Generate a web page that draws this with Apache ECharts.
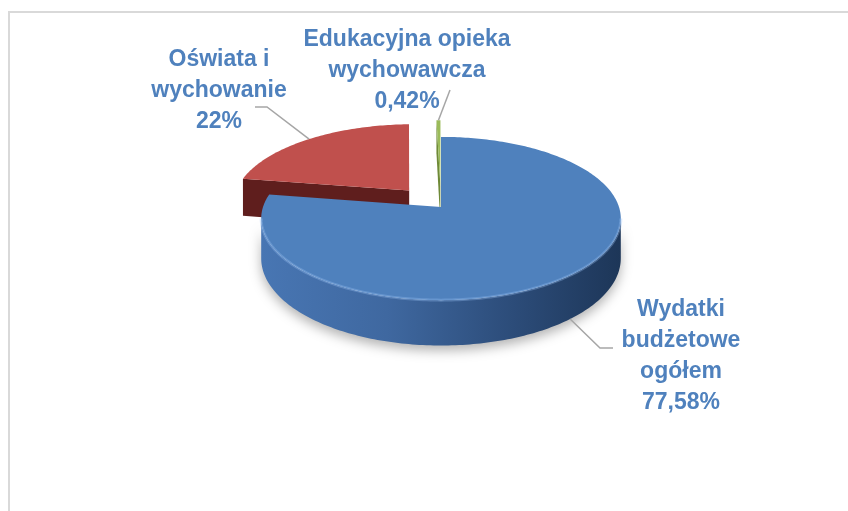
<!DOCTYPE html>
<html>
<head>
<meta charset="utf-8">
<script src="https://cdn.jsdelivr.net/npm/echarts@6/dist/echarts.min.js"></script>
<style>
  html, body { margin: 0; padding: 0; background: #fff; }
  #chart { width: 848px; height: 511px; }
</style>
</head>
<body>
<div id="chart"></div>
<script>
// dane z wykresu
const categories = ['Wydatki\nbudżetowe\nogółem', 'Oświata i\nwychowanie', 'Edukacyjna opieka\nwychowawcza'];
const shares = [77.58, 22, 0.42];

// wygląd plastrów
const topColors = ['#4F81BD', '#C0504D', '#9BBB59'];
const sideColors = ['#2e5080', '#5f1e1d', '#6f8a38'];
const explode = [0, 0.28, 0.28];

// etykiety (środek tekstu, kolano linii, koniec linii)
const labelCentres = [[681, 356], [219, 91], [407, 71]];
const leaderKnees = [[600, 348], [267, 107], [450, 90]];
const leaderEnds = [[613, 348], [255, 107], [450, 90]];

const pie = { cx: 441, cy: 207, rx: 178, ry: 80, depth: 39, persp: 0.141 };

const total = shares.reduce((a, b) => a + b, 0);
const startAngles = [];
let acc = 0;
shares.forEach(v => { startAngles.push(acc / total * Math.PI * 2); acc += v; });

function project(u, v, down) {
  const s = 1 / (1 + pie.persp * v);
  return [pie.cx + pie.rx * u * s, pie.cy - pie.ry * v * s + down * s];
}

function rim(a0, a1, ou, ov, down) {
  const n = Math.max(2, Math.ceil((a1 - a0) / (Math.PI / 180)) + 1);
  const pts = [];
  for (let k = 0; k < n; k++) {
    const t = a0 + (a1 - a0) * k / (n - 1);
    pts.push(project(ou + Math.sin(t), ov + Math.cos(t), down));
  }
  return pts;
}

function fmt(v) {
  return String(v).replace('.', ',') + '%';
}

// kolejność rysowania: od najdalszego plastra
const mids = shares.map((v, i) => startAngles[i] + v / total * Math.PI);
const order = mids.map((m, i) => i).sort((a, b) => Math.cos(mids[b]) - Math.cos(mids[a]));

function renderSlice(params, api) {
  const i = params.dataIndex;
  const val = api.value(0);
  const a0 = startAngles[i];
  const a1 = a0 + val / total * Math.PI * 2;
  const m = (a0 + a1) / 2;
  const ou = explode[i] * Math.sin(m);
  const ov = explode[i] * Math.cos(m);
  const h = pie.depth;
  const rank = order.indexOf(i) * 10;
  const children = [];

  // ściany przekroju
  [[a0, -1], [a1, 1]].forEach(([a, sign]) => {
    const nu = sign * Math.cos(a), nv = sign * -Math.sin(a);
    const pu = ou + 0.5 * Math.sin(a), pv = ov + 0.5 * Math.cos(a);
    const facing = -nu * pu - nv * (1 / pie.persp + pv);
    if (facing <= 0) return;
    children.push({
      type: 'polygon',
      z2: rank + 1,
      shape: { points: [project(ou, ov, 0), project(ou + Math.sin(a), ov + Math.cos(a), 0),
                        project(ou + Math.sin(a), ov + Math.cos(a), h), project(ou, ov, h)] },
      style: { fill: sideColors[i] }
    });
  });

  // ściana zewnętrzna (tylko przód)
  const lim = Math.acos(-pie.persp);
  const w0 = Math.max(a0, lim), w1 = Math.min(a1, Math.PI * 2 - lim);
  if (w1 > w0) {
    const upper = rim(w0, w1, ou, ov, 0);
    const lower = rim(w0, w1, ou, ov, h).reverse();
    const grad = i === 0
      ? new echarts.graphic.LinearGradient(0, 0, 1, 0, [
          { offset: 0, color: '#4876b3' }, { offset: 0.35, color: '#3f68a0' },
          { offset: 0.7, color: '#2c4c79' }, { offset: 1, color: '#1d3658' }])
      : sideColors[i];
    children.push({
      type: 'polygon',
      z2: rank + 2,
      shape: { points: upper.concat(lower) },
      style: { fill: grad, shadowBlur: 12, shadowOffsetY: 5, shadowColor: 'rgba(0,0,0,0.3)' }
    });
    children.push({
      type: 'polyline',
      z2: rank + 4,
      shape: { points: upper },
      style: { stroke: 'rgba(150,190,240,0.35)', lineWidth: 3, fill: null }
    });
  }

  // wierzch
  children.push({
    type: 'polygon',
    z2: rank + 3,
    shape: { points: [project(ou, ov, 0)].concat(rim(a0, a1, ou, ov, 0)) },
    style: { fill: topColors[i] }
  });

  // linia odniesienia i etykieta
  const front = Math.cos(m) < 0;
  const anchor = project(ou + Math.sin(m), ov + Math.cos(m), front ? h : 0);
  children.push({
    type: 'polyline',
    z2: 200,
    shape: { points: [anchor, leaderKnees[i], leaderEnds[i]] },
    style: { stroke: '#A6A6A6', lineWidth: 1.5, fill: null }
  });
  children.push({
    type: 'text',
    z2: 201,
    x: labelCentres[i][0],
    y: labelCentres[i][1],
    style: {
      text: categories[i] + '\n' + fmt(val),
      fill: '#4F81BD',
      font: 'bold 23px "Liberation Sans", Arial, sans-serif',
      lineHeight: 31,
      align: 'center',
      verticalAlign: 'middle'
    }
  });

  return { type: 'group', children: children };
}

const chart = echarts.init(document.getElementById('chart'));
chart.setOption({
  animation: false,
  backgroundColor: '#fff',
  graphic: [{
    type: 'rect',
    shape: { x: 9, y: 12, width: 900, height: 600 },
    style: { fill: null, stroke: '#D9D9D9', lineWidth: 2 },
    silent: true
  }],
  series: [{
    type: 'custom',
    coordinateSystem: 'none',
    renderItem: renderSlice,
    data: shares.map((v, i) => ({ name: categories[i], value: v }))
  }]
});
</script>
</body>
</html>
